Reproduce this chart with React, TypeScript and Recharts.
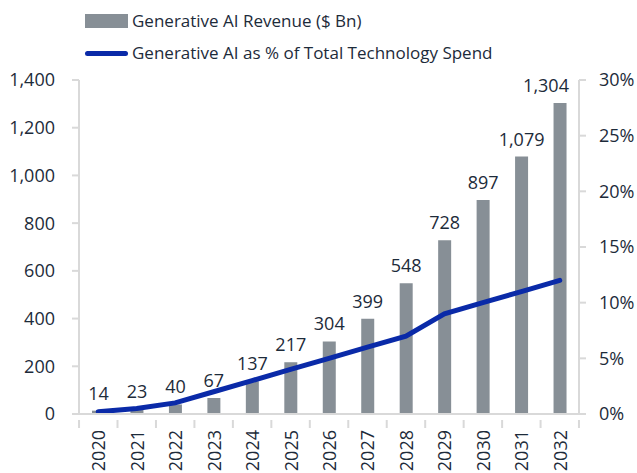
import { ComposedChart, Bar, Line, XAxis, YAxis, LabelList } from 'recharts';

const years = ['2020', '2021', '2022', '2023', '2024', '2025', '2026', '2027', '2028', '2029', '2030', '2031', '2032'];
const revenue = [14, 23, 40, 67, 137, 217, 304, 399, 548, 728, 897, 1079, 1304];
const sharePct = [0.2, 0.5, 1, 2, 3, 4, 5, 6, 7, 9, 10, 11, 12];
const leftTicks = [0, 200, 400, 600, 800, 1000, 1200, 1400];
const rightTicks = [0, 5, 10, 15, 20, 25, 30];

const data = years.map((year, i) => ({ year, revenue: revenue[i], share: sharePct[i] }));

const FONT = "'Open Sans', sans-serif";
const TEXT = '#1d2b3a';
const AXIS = '#d9d9d9';

// year label plus a tick mark on each category boundary
const YearTick = (props: any) => {
  const { x, y, payload, index, visibleTicksCount } = props;
  const half = 499 / years.length / 2;
  const y0 = y - 4;
  return (
    <g>
      <line x1={x - half} x2={x - half} y1={y0} y2={y0 + 8} stroke={AXIS} strokeWidth={2} />
      {index === visibleTicksCount - 1 && (
        <line x1={x + half} x2={x + half} y1={y0} y2={y0 + 8} stroke={AXIS} strokeWidth={2} />
      )}
      <text x={x} y={y + 6} transform={`rotate(-90, ${x}, ${y + 6})`} textAnchor="end" dominantBaseline="central"
        fontSize={18} fill={TEXT} fontFamily={FONT}>
        {payload.value}
      </text>
    </g>
  );
};

// value label above bar; the last one is nudged left like the original
const ValueLabel = (props: any) => {
  const { x, y, width, value, index } = props;
  const dx = index === years.length - 1 ? -14 : 0;
  return (
    <text x={x + width / 2 + dx} y={y - 11} textAnchor="middle" fontSize={18} fill={TEXT} fontFamily={FONT}>
      {Number(value).toLocaleString('en-US')}
    </text>
  );
};

export default function App() {
  return (
    <div style={{ position: 'absolute', left: 0, top: 0, width: 637, height: 473 }}>
      <div style={{ position: 'absolute', top: 11, left: 85, fontFamily: FONT, fontSize: 17, color: TEXT, lineHeight: '20px' }}>
        <div style={{ display: 'flex', alignItems: 'center', height: 20, marginBottom: 12 }}>
          <span style={{ display: 'inline-block', width: 43, height: 14, background: '#878f96', marginRight: 4 }} />
          Generative AI Revenue ($ Bn)
        </div>
        <div style={{ display: 'flex', alignItems: 'center', height: 20 }}>
          <span style={{ display: 'inline-block', width: 43, height: 5, borderRadius: 3, background: '#0a2aa8', marginRight: 4 }} />
          Generative AI as % of Total Technology Spend
        </div>
      </div>
      <ComposedChart width={637} height={473} data={data} margin={{ top: 80, right: 0, bottom: 0, left: 0 }}>
        <XAxis dataKey="year" height={59} tickLine={false} axisLine={{ stroke: AXIS, strokeWidth: 2 }}
          tick={<YearTick />} interval={0} tickMargin={4} />
        <YAxis yAxisId="left" width={79} domain={[0, 1400]} ticks={leftTicks} interval={0}
          tickFormatter={(v: number) => v.toLocaleString('en-US')} axisLine={{ stroke: AXIS, strokeWidth: 2 }}
          tickLine={{ stroke: AXIS, strokeWidth: 2 }} tickSize={7} tickMargin={17}
          tick={{ fontSize: 18, fill: TEXT, fontFamily: FONT }} />
        <YAxis yAxisId="right" orientation="right" width={58} domain={[0, 30]} ticks={rightTicks} interval={0}
          tickFormatter={(v: number) => `${v}%`} axisLine={{ stroke: AXIS, strokeWidth: 2 }}
          tickLine={{ stroke: AXIS, strokeWidth: 2 }} tickSize={7} tickMargin={13}
          tick={{ fontSize: 18, fill: TEXT, fontFamily: FONT }} />
        <Bar yAxisId="left" dataKey="revenue" fill="#878f96" barSize={13} isAnimationActive={false}>
          <LabelList dataKey="revenue" content={<ValueLabel />} />
        </Bar>
        <Line yAxisId="right" dataKey="share" stroke="#0a2aa8" strokeWidth={5} dot={false}
          strokeLinecap="round" isAnimationActive={false} />
      </ComposedChart>
    </div>
  );
}
